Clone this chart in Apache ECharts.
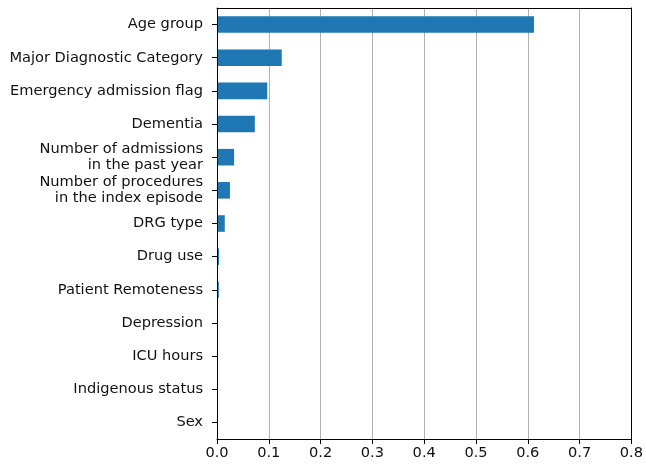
<!DOCTYPE html>
<html><head><meta charset="utf-8">
<script src="https://cdn.jsdelivr.net/npm/echarts@6/dist/echarts.min.js"></script>
<style>html,body{margin:0;padding:0;background:#fff}#c{width:646px;height:470px}</style>
</head><body><div id="c"></div>
<script>
const categories = ["Age group","Major Diagnostic Category","Emergency admission flag","Dementia","Number of admissions\nin the past year","Number of procedures\nin the index episode","DRG type","Drug use","Patient Remoteness","Depression","ICU hours","Indigenous status","Sex"];
const importance = [0.612,0.125,0.097,0.073,0.033,0.025,0.015,0.004,0.0035,0.0006,0.0004,0.0003,0.0002];
const xTicks = [0,0.1,0.2,0.3,0.4,0.5,0.6,0.7,0.8];
const chart = echarts.init(document.getElementById('c'), null, {renderer:'canvas'});
const font = 'DejaVu Sans';
const frameAxis = {show:true,onZero:false,lineStyle:{color:'#000',width:1}};
chart.setOption({
  animation:false,
  grid:{left:217,top:8,width:417,height:431,show:false},
  xAxis:[{type:'value',min:xTicks[0],max:xTicks[xTicks.length-1],interval:0.1,
    axisLine:frameAxis,
    axisTick:{show:true,length:5,lineStyle:{color:'#000'}},
    axisLabel:{color:'#111',fontFamily:font,fontSize:14.6,margin:7,formatter:v=>v.toFixed(1)},
    splitLine:{show:true,showMinLine:false,showMaxLine:false,lineStyle:{color:'#b0b0b0',width:1}},z:1},
    {type:'value',position:'top',min:0,max:0.8,interval:0.1,axisLine:frameAxis,axisTick:{show:false},axisLabel:{show:false},splitLine:{show:false},z:5}],
  yAxis:[{type:'category',data:categories,inverse:true,
    axisLine:frameAxis,
    axisTick:{show:true,length:5,alignWithLabel:true,lineStyle:{color:'#000'}},
    axisLabel:{color:'#111',fontFamily:font,fontSize:14.6,lineHeight:16,margin:14,align:'right'},
    splitLine:{show:false},z:5},
    {type:'category',data:categories,inverse:true,position:'right',axisLine:frameAxis,axisTick:{show:false},axisLabel:{show:false},splitLine:{show:false},z:5}],
  series:[{type:'bar',data:importance,barWidth:'50%',itemStyle:{color:'#1f77b4'},z:2}]
});
</script></body></html>
